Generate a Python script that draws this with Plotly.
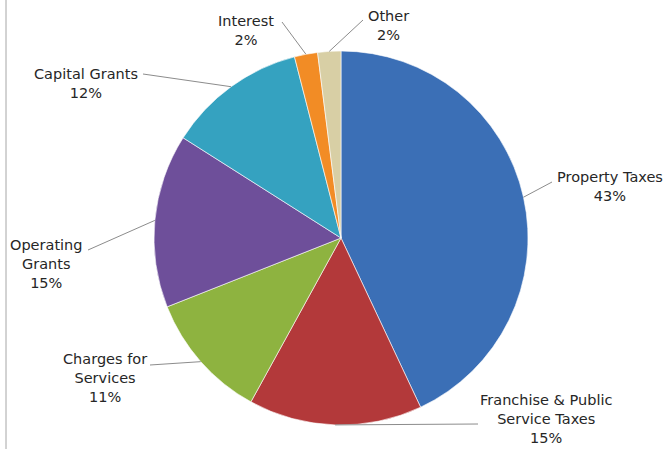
import math
import plotly.graph_objects as go

labels = ["Property Taxes", "Franchise & Public<br>Service Taxes", "Charges for<br>Services",
          "Operating<br>Grants", "Capital Grants", "Interest", "Other"]
values = [43, 15, 11, 15, 12, 2, 2]
colors = ["#3B6FB6", "#B3393A", "#8EB340", "#6E4F9A", "#35A2C0", "#F28C25", "#D8CFA5"]

# label text block centres (px) and leader-line text ends (px)
label_pos = [(610, 187), (546, 419), (105, 378), (46, 264), (86, 83), (246, 31), (388, 25)]
line_end = [(552, 182), (478, 424), (150, 365), (88, 250), (143, 74), (282, 22), (363, 20)]

W, H = 670, 449
cx, cy, r = 341, 238, 187

fig = go.Figure(go.Pie(
    labels=labels, values=values, sort=False, direction="clockwise",
    marker=dict(colors=colors, line=dict(color="rgba(255,255,255,0.6)", width=1)),
    textinfo="none", hoverinfo="label+percent", showlegend=False,
    domain=dict(x=[(cx - r) / W, (cx + r) / W], y=[(H - cy - r) / H, (H - cy + r) / H]),
))

total = sum(values)
cum = 0
shapes = []
annotations = []
for lab, v, (tx, ty), (ex, ey) in zip(labels, values, label_pos, line_end):
    mid = (cum + v / 2) / total * 2 * math.pi
    cum += v
    px = cx + r * math.sin(mid)
    py = cy - r * math.cos(mid)
    shapes.append(dict(type="line", xref="paper", yref="paper",
                       x0=px / W, y0=1 - py / H, x1=ex / W, y1=1 - ey / H,
                       line=dict(color="#8C8C8C", width=1)))
    pct = round(v / total * 100)
    annotations.append(dict(x=tx / W, y=1 - ty / H, xref="paper", yref="paper",
                            text=f"{lab}<br>{pct}%", showarrow=False, align="center",
                            xanchor="center", yanchor="middle",
                            font=dict(family="DejaVu Sans", size=14.5, color="#262626")))

shapes.append(dict(type="line", xref="paper", yref="paper", x0=6 / W, x1=6 / W, y0=0, y1=1,
                   line=dict(color="#A6A6A6", width=1)))

fig.update_layout(width=W, height=H, margin=dict(l=0, r=0, t=0, b=0),
                  paper_bgcolor="white", plot_bgcolor="white",
                  shapes=shapes, annotations=annotations)
fig.write_html("out.html")
